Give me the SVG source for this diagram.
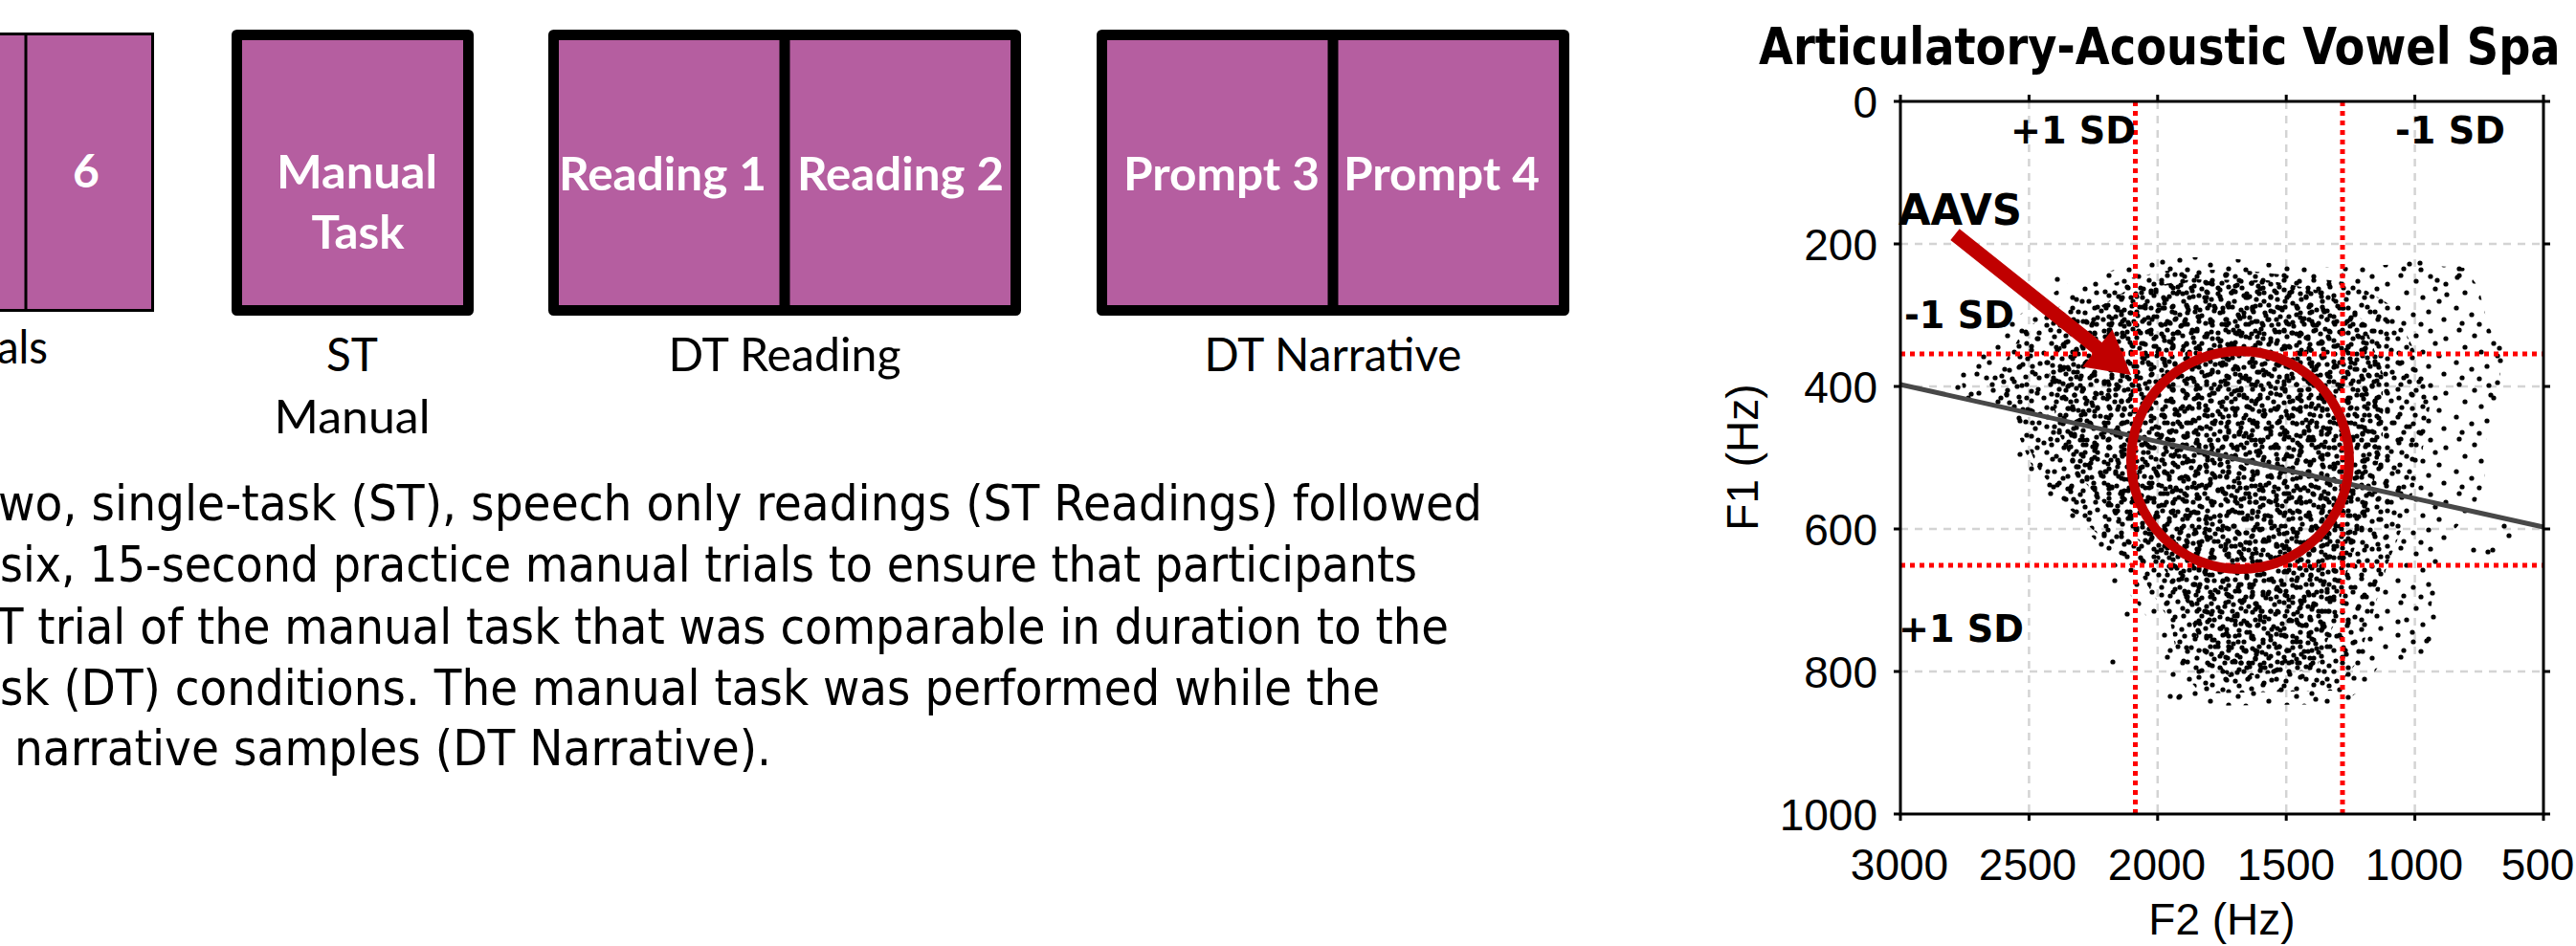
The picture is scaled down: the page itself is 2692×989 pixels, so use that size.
<svg xmlns="http://www.w3.org/2000/svg" width="2692" height="989" viewBox="0 0 2692 989">
  <style>
    .cell { fill: #B55EA0; stroke: #000; stroke-width: 11; stroke-linejoin: round; }
    .thin { fill: #B55EA0; stroke: #000; stroke-width: 3; }
    .div { stroke: #000; stroke-width: 11; }
    .in { font-family: Lato, "Open Sans", sans-serif; font-weight: 700; font-size: 48px; fill: #fff; text-anchor: middle; }
    .out { font-family: Lato, "Open Sans", sans-serif; font-size: 48px; fill: #000; text-anchor: middle; }
    .para { font-family: "DejaVu Sans", Verdana, sans-serif; font-size: 51px; fill: #000; }
    .tick { font-family: "Liberation Sans", Arial, sans-serif; font-size: 46px; fill: #000; }
    .sd { font-family: "DejaVu Sans", Verdana, sans-serif; font-weight: 700; font-size: 39px; fill: #000; }
    .title { font-family: "DejaVu Sans", Verdana, sans-serif; font-weight: 700; font-size: 53px; fill: #000; }
    .grid { stroke: #d4d4d4; stroke-width: 2.5; stroke-dasharray: 8 7; fill: none; }
    .sdline { stroke: #ff0000; stroke-width: 5; stroke-dasharray: 5 5; fill: none; }
    .axis { stroke: #000; stroke-width: 3; fill: none; }
    .dots circle { fill: #000; }
  </style>
  <defs>
    <!-- scatter textures, tiled at co-prime sizes so overlays look irregular -->
    <pattern id="dotsP1" width="53" height="47" patternUnits="userSpaceOnUse">
      <g class="dots">
        <circle cx="4" cy="7" r="2.6"/><circle cx="19" cy="3" r="2.6"/><circle cx="33" cy="11" r="2.6"/>
        <circle cx="47" cy="5" r="2.6"/><circle cx="11" cy="19" r="2.6"/><circle cx="27" cy="23" r="2.6"/>
        <circle cx="41" cy="28" r="2.6"/><circle cx="3" cy="33" r="2.6"/><circle cx="16" cy="40" r="2.6"/>
        <circle cx="30" cy="37" r="2.6"/><circle cx="44" cy="44" r="2.6"/><circle cx="50" cy="18" r="2.6"/>
      </g>
    </pattern>
    <pattern id="dotsP2" width="61" height="57" patternUnits="userSpaceOnUse">
      <g class="dots">
        <circle cx="8" cy="3" r="2.6"/><circle cx="24" cy="9" r="2.6"/><circle cx="39" cy="4" r="2.6"/>
        <circle cx="55" cy="12" r="2.6"/><circle cx="14" cy="21" r="2.6"/><circle cx="31" cy="26" r="2.6"/>
        <circle cx="48" cy="30" r="2.6"/><circle cx="5" cy="37" r="2.6"/><circle cx="21" cy="44" r="2.6"/>
        <circle cx="37" cy="41" r="2.6"/><circle cx="53" cy="49" r="2.6"/><circle cx="11" cy="53" r="2.6"/>
        <circle cx="44" cy="17" r="2.6"/><circle cx="29" cy="54" r="2.6"/>
      </g>
    </pattern>
    <pattern id="dotsP3" width="67" height="59" patternUnits="userSpaceOnUse">
      <g class="dots">
        <circle cx="3" cy="12" r="2.6"/><circle cx="15" cy="4" r="2.6"/><circle cx="28" cy="16" r="2.6"/>
        <circle cx="42" cy="8" r="2.6"/><circle cx="58" cy="4" r="2.6"/><circle cx="9" cy="29" r="2.6"/>
        <circle cx="23" cy="35" r="2.6"/><circle cx="37" cy="27" r="2.6"/><circle cx="51" cy="22" r="2.6"/>
        <circle cx="63" cy="38" r="2.6"/><circle cx="18" cy="49" r="2.6"/><circle cx="33" cy="52" r="2.6"/>
        <circle cx="47" cy="44" r="2.6"/><circle cx="60" cy="54" r="2.6"/><circle cx="5" cy="44" r="2.6"/>
      </g>
    </pattern>
    <pattern id="dotsP4" width="43" height="41" patternUnits="userSpaceOnUse">
      <g class="dots">
        <circle cx="5" cy="6" r="2.6"/><circle cx="18" cy="3" r="2.6"/><circle cx="31" cy="9" r="2.6"/>
        <circle cx="39" cy="20" r="2.6"/><circle cx="12" cy="17" r="2.6"/><circle cx="25" cy="24" r="2.6"/>
        <circle cx="6" cy="32" r="2.6"/><circle cx="20" cy="37" r="2.6"/><circle cx="35" cy="33" r="2.6"/>
      </g>
    </pattern>
    <pattern id="dotsP5" width="47" height="53" patternUnits="userSpaceOnUse">
      <g class="dots">
        <circle cx="4" cy="4" r="2.6"/><circle cx="17" cy="9" r="2.6"/><circle cx="30" cy="3" r="2.6"/>
        <circle cx="42" cy="13" r="2.6"/><circle cx="9" cy="18" r="2.6"/><circle cx="24" cy="22" r="2.6"/>
        <circle cx="37" cy="28" r="2.6"/><circle cx="3" cy="31" r="2.6"/><circle cx="15" cy="36" r="2.6"/>
        <circle cx="29" cy="41" r="2.6"/><circle cx="42" cy="44" r="2.6"/><circle cx="8" cy="48" r="2.6"/>
      </g>
    </pattern>
    <pattern id="dotsP6" width="59" height="43" patternUnits="userSpaceOnUse">
      <g class="dots">
        <circle cx="6" cy="5" r="2.6"/><circle cx="20" cy="12" r="2.6"/><circle cx="35" cy="4" r="2.6"/>
        <circle cx="50" cy="9" r="2.6"/><circle cx="13" cy="24" r="2.6"/><circle cx="28" cy="20" r="2.6"/>
        <circle cx="44" cy="26" r="2.6"/><circle cx="56" cy="35" r="2.6"/><circle cx="4" cy="37" r="2.6"/>
        <circle cx="21" cy="38" r="2.6"/><circle cx="37" cy="40" r="2.6"/><circle cx="53" cy="20" r="2.6"/>
      </g>
    </pattern>
    <path id="coreShape" d="M2140 380L2170 335 2220 305 2290 292 2370 293 2430 305 2470 335 2490 390 2490 460 2475 530 2455 590 2440 650 2420 700 2330 708 2300 680 2285 630 2255 585 2215 545 2175 500 2150 450Z"/>
    <path id="midShape" d="M2085 395L2115 345 2165 312 2220 292 2270 282 2340 282 2410 290 2460 296 2500 320 2525 370 2540 420 2530 480 2515 540 2495 590 2480 640 2465 690 2440 722 2300 725 2278 700 2268 650 2240 605 2200 565 2160 530 2130 490 2110 445Z"/>
  </defs>

  <rect x="0" y="0" width="2692" height="989" fill="#fff"/>

  <!-- practice trials block (cut at the left edge) -->
  <g id="practice-trials">
    <rect class="thin" x="-10" y="35.5" width="169.5" height="289"/>
    <line x1="27" y1="35" x2="27" y2="325" stroke="#000" stroke-width="3"/>
    <text class="in" x="90" y="196">6</text>
    <text class="out" x="-3" y="380" style="text-anchor:start" textLength="53" lengthAdjust="spacingAndGlyphs">als</text>
  </g>

  <g id="st-manual">
    <rect class="cell" x="247.5" y="36.5" width="242" height="288"/>
    <text class="in" x="373" y="197" textLength="168" lengthAdjust="spacingAndGlyphs">Manual</text>
    <text class="in" x="374" y="260" textLength="97" lengthAdjust="spacingAndGlyphs">Task</text>
    <text class="out" x="368" y="388" textLength="54" lengthAdjust="spacingAndGlyphs">ST</text>
    <text class="out" x="368" y="453" textLength="163" lengthAdjust="spacingAndGlyphs">Manual</text>
  </g>

  <g id="dt-reading">
    <rect class="cell" x="578.5" y="36.5" width="483" height="288"/>
    <line class="div" x1="820" y1="36" x2="820" y2="325"/>
    <text class="in" x="692.5" y="199" textLength="217" lengthAdjust="spacingAndGlyphs">Reading 1</text>
    <text class="in" x="941" y="199" textLength="216" lengthAdjust="spacingAndGlyphs">Reading 2</text>
    <text class="out" x="820" y="388" textLength="243" lengthAdjust="spacingAndGlyphs">DT Reading</text>
  </g>

  <g id="dt-narrative">
    <rect class="cell" x="1151.5" y="36.5" width="483" height="288"/>
    <line class="div" x1="1393" y1="36" x2="1393" y2="325"/>
    <text class="in" x="1276.5" y="199" textLength="205" lengthAdjust="spacingAndGlyphs">Prompt 3</text>
    <text class="in" x="1506.5" y="199" textLength="205" lengthAdjust="spacingAndGlyphs">Prompt 4</text>
    <text class="out" x="1393" y="388" textLength="269" lengthAdjust="spacingAndGlyphs">DT Narrative</text>
  </g>

  <g id="caption" class="para">
    <text x="-2" y="544" textLength="1551" lengthAdjust="spacingAndGlyphs">wo, single-task (ST), speech only readings (ST Readings) followed</text>
    <text x="0" y="608" textLength="1481" lengthAdjust="spacingAndGlyphs">six, 15-second practice manual trials to ensure that participants</text>
    <text x="-4" y="673" textLength="1518" lengthAdjust="spacingAndGlyphs">T trial of the manual task that was comparable in duration to the</text>
    <text x="0" y="737" textLength="1442" lengthAdjust="spacingAndGlyphs">sk (DT) conditions. The manual task was performed while the</text>
    <text x="15" y="800" textLength="791" lengthAdjust="spacingAndGlyphs">narrative samples (DT Narrative).</text>
  </g>

  <!-- F1/F2 scatter plot -->
  <g id="chart">
    <text class="title" transform="translate(1838 67) scale(0.875 1)">Articulatory-Acoustic Vowel Spa</text>

    <g id="grid">
      <path class="grid" d="M2120.4 106V851M2254.8 106V851M2389.2 106V851M2523.6 106V851"/>
      <path class="grid" d="M1986 255H2658M1986 404H2658M1986 553H2658M1986 702H2658"/>
    </g>

    <g id="scatter">
      <path fill="url(#dotsP2)" d="M2050 400L2068 370 2090 345 2120 322 2160 297 2210 282 2262 268 2330 270 2400 278 2440 280 2510 276 2575 280 2590 300 2600 340 2614 366 2612 410 2598 460 2596 505 2585 530 2560 560 2545 600 2540 640 2542 680 2520 690 2490 690 2470 720 2445 736 2300 738 2272 728 2262 700 2255 660 2225 620 2205 580 2180 555 2140 520 2120 480 2105 445 2075 425 2055 420Z"/>
      <use href="#midShape" fill="url(#dotsP1)"/>
      <use href="#midShape" fill="url(#dotsP5)"/>
      <use href="#coreShape" fill="url(#dotsP3)"/>
      <use href="#coreShape" fill="url(#dotsP4)"/>
      <use href="#coreShape" fill="url(#dotsP6)"/>
      <g class="dots">
        <circle cx="2260" cy="274" r="2.6"/><circle cx="2150" cy="292" r="2.6"/><circle cx="2111" cy="475" r="2.6"/>
        <circle cx="2123" cy="490" r="2.6"/><circle cx="2142" cy="507" r="2.6"/><circle cx="2518" cy="276" r="2.6"/>
        <circle cx="2529" cy="275" r="2.6"/><circle cx="2547" cy="293" r="2.6"/><circle cx="2570" cy="281" r="2.6"/>
        <circle cx="2568" cy="290" r="2.6"/><circle cx="2557" cy="308" r="2.6"/><circle cx="2612" cy="364" r="2.6"/>
        <circle cx="2613" cy="377" r="2.6"/><circle cx="2610" cy="400" r="2.6"/><circle cx="2603" cy="413" r="2.6"/>
        <circle cx="2617" cy="550" r="2.6"/><circle cx="2622" cy="560" r="2.6"/><circle cx="2605" cy="575" r="2.6"/>
        <circle cx="2585" cy="575" r="2.6"/><circle cx="2600" cy="577" r="2.6"/><circle cx="2542" cy="620" r="2.6"/>
        <circle cx="2543" cy="645" r="2.6"/><circle cx="2536" cy="670" r="2.6"/><circle cx="2521" cy="661" r="2.6"/>
        <circle cx="2506" cy="650" r="2.6"/><circle cx="2210" cy="607" r="2.6"/><circle cx="2223" cy="642" r="2.6"/>
        <circle cx="2208" cy="692" r="2.6"/><circle cx="2277" cy="729" r="2.6"/><circle cx="2268" cy="728" r="2.6"/>
        <circle cx="2420" cy="731" r="2.6"/><circle cx="2454" cy="729" r="2.6"/><circle cx="2460" cy="709" r="2.6"/>
        <circle cx="2161" cy="511" r="2.6"/><circle cx="2196" cy="569" r="2.6"/><circle cx="2199" cy="560" r="2.6"/>
        <circle cx="2068" cy="383" r="2.6"/><circle cx="2073" cy="373" r="2.6"/><circle cx="2076" cy="395" r="2.6"/>
        <circle cx="2083" cy="408" r="2.6"/><circle cx="2091" cy="416" r="2.6"/><circle cx="2100" cy="421" r="2.6"/>
        <circle cx="2046" cy="405" r="2.6"/><circle cx="2052" cy="392" r="2.6"/><circle cx="2060" cy="412" r="2.6"/>
      </g>
    </g>

    <line x1="1986" y1="402" x2="2658" y2="551" stroke="#484848" stroke-width="5"/>

    <g id="sd-lines">
      <path class="sdline" d="M2231.5 106V851M2448 106V851"/>
      <path class="sdline" d="M1986 370H2658M1986 591H2658"/>
    </g>

    <circle cx="2341" cy="481" r="114" fill="none" stroke="#C00000" stroke-width="10"/>

    <g id="axes">
      <rect class="axis" x="1986" y="106" width="672" height="745"/>
      <path class="axis" d="M1986 99V106M2120.4 99V106M2254.8 99V106M2389.2 99V106M2523.6 99V106M2658 99V106"/>
      <path class="axis" d="M1986 851V858M2120.4 851V858M2254.8 851V858M2389.2 851V858M2523.6 851V858M2658 851V858"/>
      <path class="axis" d="M1979 106H1986M1979 255H1986M1979 404H1986M1979 553H1986M1979 702H1986M1979 851H1986"/>
      <path class="axis" d="M2658 106H2665M2658 255H2665M2658 404H2665M2658 553H2665M2658 702H2665M2658 851H2665"/>
    </g>

    <g id="tick-labels" class="tick">
      <g style="text-anchor:end">
        <text x="1962" y="123">0</text>
        <text x="1962" y="272">200</text>
        <text x="1962" y="421">400</text>
        <text x="1962" y="570">600</text>
        <text x="1962" y="719">800</text>
        <text x="1962" y="868">1000</text>
      </g>
      <g style="text-anchor:middle">
        <text x="1985" y="920">3000</text>
        <text x="2119" y="920">2500</text>
        <text x="2254" y="920">2000</text>
        <text x="2389" y="920">1500</text>
        <text x="2523" y="920">1000</text>
        <text x="2652" y="920">500</text>
        <text x="2322" y="977">F2 (Hz)</text>
      </g>
      <text transform="translate(1837 478) rotate(-90)" style="text-anchor:middle">F1 (Hz)</text>
    </g>

    <g id="sd-labels" class="sd">
      <text x="2101" y="150" textLength="131" lengthAdjust="spacingAndGlyphs">+1 SD</text>
      <text x="2503" y="150" textLength="115" lengthAdjust="spacingAndGlyphs">-1 SD</text>
      <text x="1990" y="343" textLength="115" lengthAdjust="spacingAndGlyphs">-1 SD</text>
      <text x="1984" y="671" textLength="131" lengthAdjust="spacingAndGlyphs">+1 SD</text>
      <text x="1984" y="235" style="font-size:45px" textLength="129" lengthAdjust="spacingAndGlyphs">AAVS</text>
    </g>
  </g>

  <g id="connectors">
    <polygon fill="#C00000" points="2047.7,239.2 2196.6,358.1 2207.5,344.4 2227,392 2176.3,383.4 2187.2,369.8 2038.3,250.9"/>
  </g>
</svg>
